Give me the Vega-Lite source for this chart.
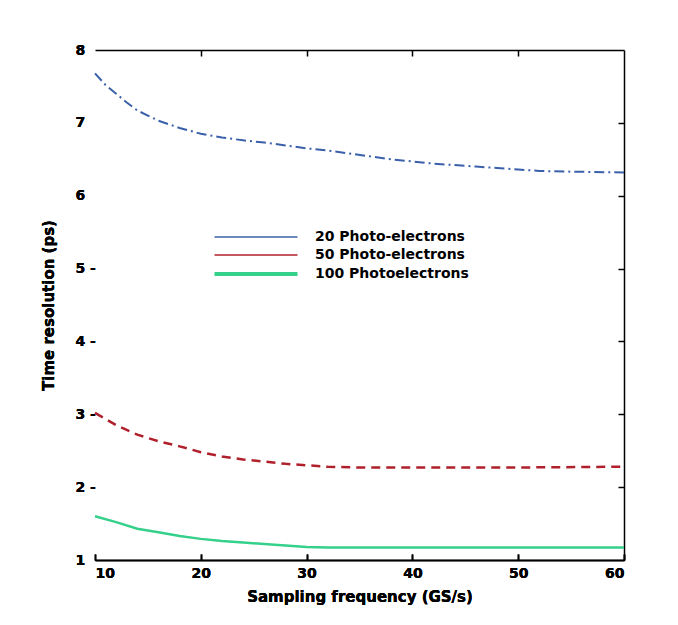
{
  "$schema": "https://vega.github.io/schema/vega-lite/v6.json",
  "width": 529,
  "height": 510,
  "autosize": {"type": "none"},
  "padding": {"left": 95, "top": 50, "right": 54, "bottom": 65},
  "background": "#ffffff",
  "data": {
    "values": [
      {"f": 10, "t": 7.68, "series": "20 Photo-electrons"},
      {"f": 11, "t": 7.52, "series": "20 Photo-electrons"},
      {"f": 12, "t": 7.4, "series": "20 Photo-electrons"},
      {"f": 13, "t": 7.28, "series": "20 Photo-electrons"},
      {"f": 14, "t": 7.17, "series": "20 Photo-electrons"},
      {"f": 15, "t": 7.1, "series": "20 Photo-electrons"},
      {"f": 16, "t": 7.03, "series": "20 Photo-electrons"},
      {"f": 18, "t": 6.93, "series": "20 Photo-electrons"},
      {"f": 20, "t": 6.85, "series": "20 Photo-electrons"},
      {"f": 22, "t": 6.8, "series": "20 Photo-electrons"},
      {"f": 24, "t": 6.76, "series": "20 Photo-electrons"},
      {"f": 26, "t": 6.73, "series": "20 Photo-electrons"},
      {"f": 28, "t": 6.69, "series": "20 Photo-electrons"},
      {"f": 30, "t": 6.65, "series": "20 Photo-electrons"},
      {"f": 32, "t": 6.62, "series": "20 Photo-electrons"},
      {"f": 34, "t": 6.58, "series": "20 Photo-electrons"},
      {"f": 36, "t": 6.54, "series": "20 Photo-electrons"},
      {"f": 38, "t": 6.5, "series": "20 Photo-electrons"},
      {"f": 40, "t": 6.47, "series": "20 Photo-electrons"},
      {"f": 42, "t": 6.44, "series": "20 Photo-electrons"},
      {"f": 44, "t": 6.42, "series": "20 Photo-electrons"},
      {"f": 46, "t": 6.4, "series": "20 Photo-electrons"},
      {"f": 48, "t": 6.38, "series": "20 Photo-electrons"},
      {"f": 50, "t": 6.36, "series": "20 Photo-electrons"},
      {"f": 52, "t": 6.34, "series": "20 Photo-electrons"},
      {"f": 55, "t": 6.33, "series": "20 Photo-electrons"},
      {"f": 60, "t": 6.32, "series": "20 Photo-electrons"},
      {"f": 10, "t": 3.02, "series": "50 Photo-electrons"},
      {"f": 12, "t": 2.85, "series": "50 Photo-electrons"},
      {"f": 14, "t": 2.72, "series": "50 Photo-electrons"},
      {"f": 16, "t": 2.63, "series": "50 Photo-electrons"},
      {"f": 18, "t": 2.56, "series": "50 Photo-electrons"},
      {"f": 20, "t": 2.48, "series": "50 Photo-electrons"},
      {"f": 22, "t": 2.42, "series": "50 Photo-electrons"},
      {"f": 24, "t": 2.38, "series": "50 Photo-electrons"},
      {"f": 26, "t": 2.35, "series": "50 Photo-electrons"},
      {"f": 28, "t": 2.32, "series": "50 Photo-electrons"},
      {"f": 30, "t": 2.3, "series": "50 Photo-electrons"},
      {"f": 32, "t": 2.28, "series": "50 Photo-electrons"},
      {"f": 35, "t": 2.27, "series": "50 Photo-electrons"},
      {"f": 40, "t": 2.27, "series": "50 Photo-electrons"},
      {"f": 50, "t": 2.27, "series": "50 Photo-electrons"},
      {"f": 60, "t": 2.28, "series": "50 Photo-electrons"},
      {"f": 10, "t": 1.6, "series": "100 Photoelectrons"},
      {"f": 12, "t": 1.52, "series": "100 Photoelectrons"},
      {"f": 14, "t": 1.43, "series": "100 Photoelectrons"},
      {"f": 16, "t": 1.38, "series": "100 Photoelectrons"},
      {"f": 18, "t": 1.33, "series": "100 Photoelectrons"},
      {"f": 20, "t": 1.29, "series": "100 Photoelectrons"},
      {"f": 22, "t": 1.26, "series": "100 Photoelectrons"},
      {"f": 24, "t": 1.24, "series": "100 Photoelectrons"},
      {"f": 26, "t": 1.22, "series": "100 Photoelectrons"},
      {"f": 28, "t": 1.2, "series": "100 Photoelectrons"},
      {"f": 30, "t": 1.18, "series": "100 Photoelectrons"},
      {"f": 32, "t": 1.17, "series": "100 Photoelectrons"},
      {"f": 40, "t": 1.17, "series": "100 Photoelectrons"},
      {"f": 50, "t": 1.17, "series": "100 Photoelectrons"},
      {"f": 60, "t": 1.17, "series": "100 Photoelectrons"}
    ]
  },
  "encoding": {
    "x": {
      "field": "f",
      "type": "quantitative",
      "scale": {"domain": [10, 60], "nice": false},
      "axis": {
        "orient": "bottom",
        "values": [10, 20, 30, 40, 50, 60],
        "title": "Sampling frequency (GS/s)",
        "titleY": 29,
        "grid": false,
        "domainColor": "#000000",
        "domainWidth": 1.5,
        "tickColor": "#000000",
        "tickSize": -6,
        "tickWidth": 1.5,
        "labelPadding": 12,
        "labelFontSize": 14,
        "labelFontWeight": "bold",
        "labelColor": "#000000"
      }
    },
    "y": {
      "field": "t",
      "type": "quantitative",
      "scale": {"domain": [1, 8], "nice": false, "zero": false},
      "axis": {
        "orient": "left",
        "values": [1, 2, 3, 4, 5, 6, 7, 8],
        "labelExpr": "datum.value >= 2 && datum.value <= 5 ? datum.label + ' -' : datum.label",
        "title": "Time resolution (ps)",
        "titleX": -47,
        "titleBaseline": "middle",
        "grid": false,
        "domain": false,
        "ticks": false,
        "tickSize": 0,
        "labelAlign": "left",
        "labelPadding": 20,
        "labelFontSize": 14,
        "labelFontWeight": "bold",
        "labelColor": "#000000"
      }
    },
    "color": {
      "field": "series",
      "type": "nominal",
      "scale": {
        "domain": ["20 Photo-electrons", "50 Photo-electrons", "100 Photoelectrons"],
        "range": ["#3a60aa", "#b0202c", "#35d08a"]
      },
      "legend": {
        "title": null,
        "orient": "none",
        "legendX": 154,
        "legendY": 180,
        "symbolType": "M-4.61,0L4.61,0",
        "symbolSize": 324,
        "symbolStrokeWidth": 1.5,
        "labelOffset": 52,
        "labelFontSize": 14,
        "labelFontWeight": "bold",
        "labelColor": "#000000",
        "rowPadding": 4,
        "encode": {
          "symbols": {
            "update": {
              "strokeWidth": {"signal": "datum.value === '100 Photoelectrons' ? 4 : 1.5"}
            }
          }
        }
      }
    }
  },
  "layer": [
    {
      "transform": [{"filter": "datum.series === '20 Photo-electrons'"}],
      "mark": {"type": "line", "strokeWidth": 2, "strokeDash": [10, 4, 2, 4]}
    },
    {
      "transform": [{"filter": "datum.series === '50 Photo-electrons'"}],
      "mark": {"type": "line", "strokeWidth": 2.5, "strokeDash": [9, 6]}
    },
    {
      "transform": [{"filter": "datum.series === '100 Photoelectrons'"}],
      "mark": {"type": "line", "strokeWidth": 2.5}
    },
    {
      "mark": {"type": "point", "opacity": 0},
      "encoding": {
        "x": {
          "field": "f",
          "type": "quantitative",
          "axis": {
            "orient": "top",
            "values": [20, 30, 40, 50],
            "labels": false,
            "title": null,
            "grid": false,
            "domainColor": "#000000",
            "domainWidth": 1.5,
            "tickColor": "#000000",
            "tickSize": -6,
            "tickWidth": 1.5
          }
        },
        "y": {
          "field": "t",
          "type": "quantitative",
          "axis": {
            "orient": "right",
            "values": [2, 3, 4, 5, 6, 7],
            "labels": false,
            "title": null,
            "grid": false,
            "domainColor": "#000000",
            "domainWidth": 1.5,
            "tickColor": "#000000",
            "tickSize": -6,
            "tickWidth": 1.5
          }
        },
        "color": {"value": "#000000"}
      }
    }
  ],
  "resolve": {"axis": {"x": "independent", "y": "independent"}},
  "config": {
    "font": "DejaVu Sans",
    "view": {"stroke": null},
    "axis": {"titleFontSize": 15, "titleFontWeight": "bold", "titleColor": "#000000"}
  }
}
